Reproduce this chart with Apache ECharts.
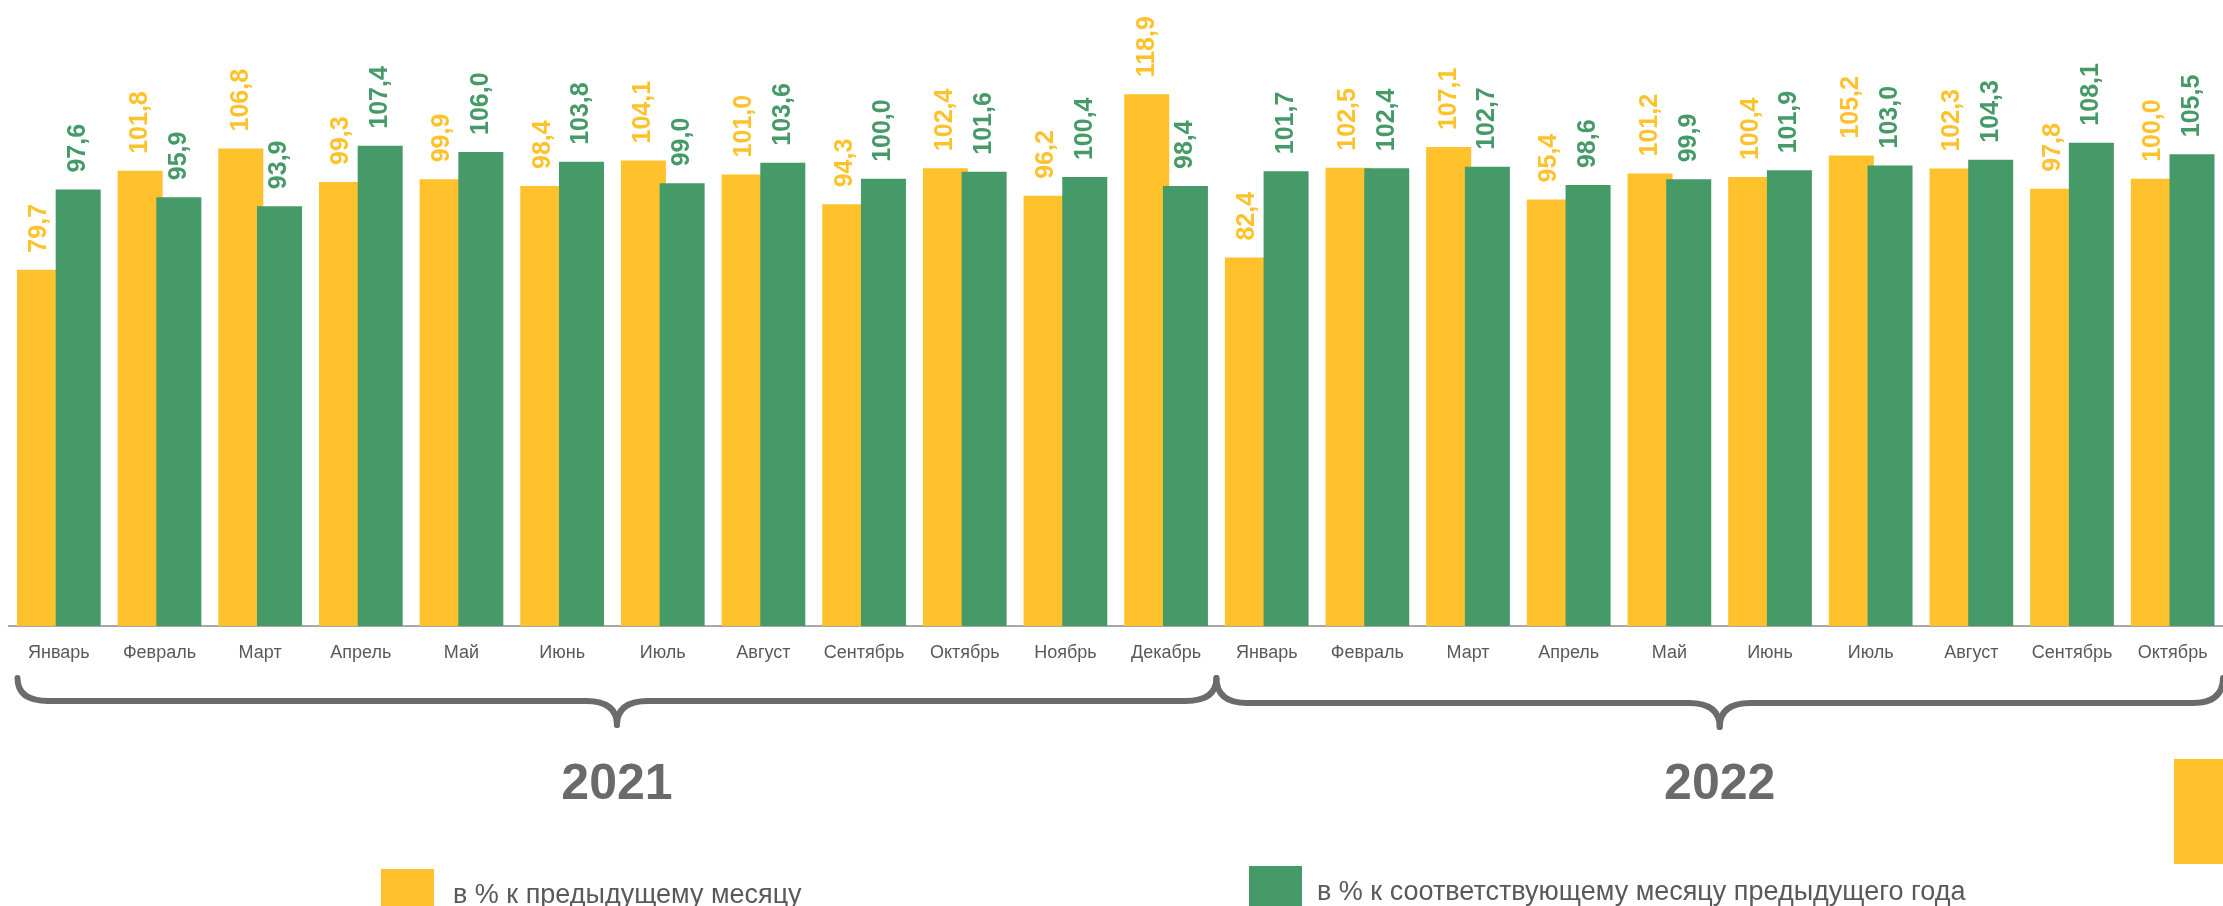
<!DOCTYPE html>
<html>
<head>
<meta charset="utf-8">
<script src="https://cdn.jsdelivr.net/npm/echarts@6/dist/echarts.min.js"></script>
<style>
html,body{margin:0;padding:0;background:#fff;}
#c{width:2223px;height:906px;}
</style>
</head>
<body>
<div id="c"></div>
<script>
const months = ['Январь','Февраль','Март','Апрель','Май','Июнь','Июль','Август','Сентябрь','Октябрь','Ноябрь','Декабрь',
                'Январь','Февраль','Март','Апрель','Май','Июнь','Июль','Август','Сентябрь','Октябрь'];
const prevMonth = [79.7,101.8,106.8,99.3,99.9,98.4,104.1,101.0,94.3,102.4,96.2,118.9,
                   82.4,102.5,107.1,95.4,101.2,100.4,105.2,102.3,97.8,100.0];
const prevYear = [97.6,95.9,93.9,107.4,106.0,103.8,99.0,103.6,100.0,101.6,100.4,98.4,
                  101.7,102.4,102.7,98.6,99.9,101.9,103.0,104.3,108.1,105.5];
const years = ['2021','2022'];
const yearMonths = [12,10];
const seriesNames = ['в % к предыдущему месяцу','в % к соответствующему месяцу предыдущего года'];

const YELLOW = '#FFC22D';
const GREEN = '#459A68';
const FONT = '"Liberation Sans", Arial, sans-serif';

const chart = echarts.init(document.getElementById('c'));
const fmt = p => p.value.toFixed(1).replace('.', ',');
function lbl(color){
  return {show:true, position:'top', distance:17, rotate:90, align:'left', verticalAlign:'middle',
          color:color, fontSize:25, fontWeight:'bold', fontFamily:FONT, formatter:fmt};
}
chart.setOption({
  animation:false,
  grid:{left:8.5, right:-8, top:-1, bottom:280, containLabel:false},
  xAxis:{type:'category', data:months,
    axisLine:{show:true, lineStyle:{color:'#8c8c8c', width:1.5}},
    axisTick:{show:false},
    axisLabel:{color:'#595959', fontSize:18, fontFamily:FONT, margin:18, interval:0}},
  yAxis:{type:'value', min:0, max:140, show:false, splitLine:{show:false}},
  legend:[
    {data:[seriesNames[0]], left:376, top:864, itemWidth:53, itemHeight:53, icon:'rect',
     textStyle:{color:'#595959', fontSize:27, fontFamily:FONT, padding:[0,0,8,14]}},
    {data:[seriesNames[1]], left:1244, top:861, itemWidth:53, itemHeight:53, icon:'rect',
     textStyle:{color:'#595959', fontSize:27, fontFamily:FONT, padding:[0,0,4,10]}}
  ],
  series:[
    {name:seriesNames[0], type:'bar', data:prevMonth, barWidth:45, barGap:'-14%',
     itemStyle:{color:YELLOW}, label:lbl(YELLOW)},
    {name:seriesNames[1], type:'bar', data:prevYear, barWidth:45, barGap:'-14%',
     itemStyle:{color:GREEN}, label:lbl(GREEN)}
  ]
});

// braces and year labels computed from the category axis
const c0 = chart.convertToPixel({xAxisIndex:0}, 0);
const c1 = chart.convertToPixel({xAxisIndex:0}, 1);
const bw = c1 - c0;
const start = c0 - bw/2;
const yt = 678, rx = 31;
const BST = {stroke:'#6b6b6b', lineWidth:6, fill:null, lineCap:'round'};
function curve(x1,y1,cx,cy,x2,y2){
  return {type:'bezierCurve', shape:{x1:x1,y1:y1,cpx1:cx,cpy1:cy,x2:x2,y2:y2}, style:Object.assign({},BST)};
}
function line(x1,y1,x2,y2){
  return {type:'line', shape:{x1:x1,y1:y1,x2:x2,y2:y2}, style:Object.assign({},BST)};
}
function brace(x0, x1, yl){
  const m = (x0 + x1)/2;
  const yb = yl + 24;
  return [
    curve(x0,yt, x0,yl, x0+rx,yl),
    line(x0+rx,yl, m-rx,yl),
    curve(m-rx,yl, m,yl, m,yb),
    curve(m,yb, m,yl, m+rx,yl),
    line(m+rx,yl, x1-rx,yl),
    curve(x1-rx,yl, x1,yl, x1,yt)
  ];
}
const graphics = [];
let idx = 0;
years.forEach((y, i) => {
  let x0 = start + idx*bw;
  const x1 = start + (idx + yearMonths[i])*bw;
  if (i === 0) x0 += 9;
  brace(x0, x1, 701 + i*2).forEach(g => graphics.push(g));
  graphics.push({type:'text', x:(x0+x1)/2, y:785,
    style:{text:y, fill:'#6a6a6a', font:'bold 50px ' + FONT, textAlign:'center', textVerticalAlign:'middle'}});
  idx += yearMonths[i];
});
graphics.push({type:'rect', shape:{x:2174, y:759, width:60, height:105}, style:{fill:YELLOW}});
chart.setOption({graphic:graphics});
</script>
</body>
</html>
